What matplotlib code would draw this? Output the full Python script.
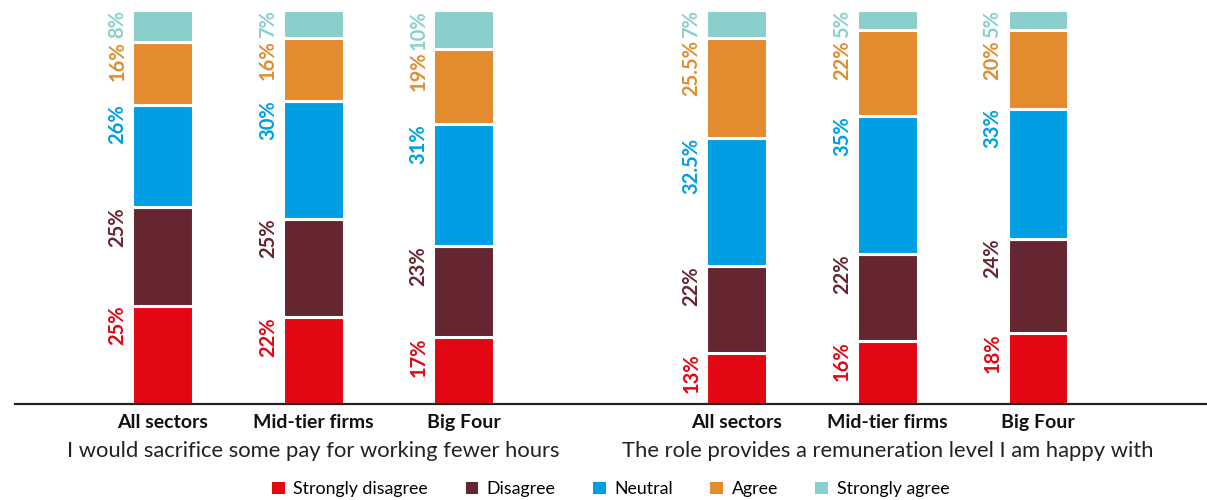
import matplotlib
matplotlib.use('agg')
from matplotlib import pyplot as plt
from matplotlib.patches import Patch
import numpy as np

plt.rcParams['font.family'] = ['Lato', 'DejaVu Sans']

# ---- data ----
groups = ['All sectors', 'Mid-tier firms', 'Big Four']
questions = ['I would sacrifice some pay for working fewer hours',
             'The role provides a remuneration level I am happy with']
answers = ['Strongly disagree', 'Disagree', 'Neutral', 'Agree', 'Strongly agree']
colors = ['#E30613', '#662630', '#009FE3', '#E38B2E', '#8ACFCB']

# bars: q1 (all, mid, big4), q2 (all, mid, big4)
strongly_disagree = [25, 22, 17, 13, 16, 18]
disagree = [25, 25, 23, 22, 22, 24]
neutral = [26, 30, 31, 32.5, 35, 33]
agree = [16, 16, 19, 25.5, 22, 20]
strongly_agree = [8, 7, 10, 7, 5, 5]
label_text = [
    ['25%', '22%', '17%', '13%', '16%', '18%'],
    ['25%', '25%', '23%', '22%', '22%', '24%'],
    ['26%', '30%', '31%', '32.5%', '35%', '33%'],
    ['16%', '16%', '19%', '25.5%', '22%', '20%'],
    ['8%', '7%', '10%', '7%', '5%', '5%'],
]

series = [strongly_disagree, disagree, neutral, agree, strongly_agree]
xpos = np.array([0, 1, 2, 3.814, 4.814, 5.814])
width = 0.405

fig = plt.figure(figsize=(12.07, 5.0), dpi=100)
ax = fig.add_axes([15 / 1207, 96 / 500, 1 - 15 / 1207, 394 / 500])
ax.set_xlim(-0.983, 6.937)
ax.set_ylim(0, 100)

bottom = np.zeros(len(xpos))
tops = []
labels = []
for i, vals in enumerate(series):
    vals = np.array(vals, dtype=float)
    ax.bar(xpos, vals, width, bottom=bottom, color=colors[i],
           edgecolor='white', linewidth=2.2)
    row = []
    for j, x in enumerate(xpos):
        t = ax.text(x - width / 2 - 0.1, bottom[j] + vals[j], label_text[i][j],
                    rotation=90, ha='center', va='top', color=colors[i],
                    fontsize=14.5, fontweight='bold')
        row.append(t)
    labels.append(row)
    bottom += vals
    tops.append(bottom.copy())

# push labels down where they would run into the one above
fig.canvas.draw()
renderer = fig.canvas.get_renderer()
px_per_unit = 394 / 100
for j in range(len(xpos)):
    limit = 100.0
    for i in range(len(series) - 1, -1, -1):
        t = labels[i][j]
        h = t.get_window_extent(renderer).height / px_per_unit
        y = min(tops[i][j], limit)
        t.set_y(y)
        limit = y - h - 0.5

ax.axhline(0, color='#222222', linewidth=1.6, clip_on=False)
for s in ax.spines.values():
    s.set_visible(False)
ax.set_xticks([])
ax.set_yticks([])

# category labels
for j, x in enumerate(xpos):
    ax.text(x, -4.6, groups[j % 3], ha='center', va='center',
            fontsize=14, fontweight='bold', color='#111111')

# question labels
ax.text(xpos[1], -12.0, questions[0], ha='center', va='center',
        fontsize=15.8, color='#222222')
ax.text(xpos[4], -12.0, questions[1], ha='center', va='center',
        fontsize=15.8, color='#222222')

handles = [Patch(facecolor=c, edgecolor='none') for c in colors]
fig.legend(handles, answers, loc='center', bbox_to_anchor=(0.506, 0.022),
           ncol=5, frameon=False, fontsize=12.8, handlelength=0.7,
           handleheight=0.7, handletextpad=0.5, columnspacing=2.1)

fig.savefig('out.png', dpi=100)
